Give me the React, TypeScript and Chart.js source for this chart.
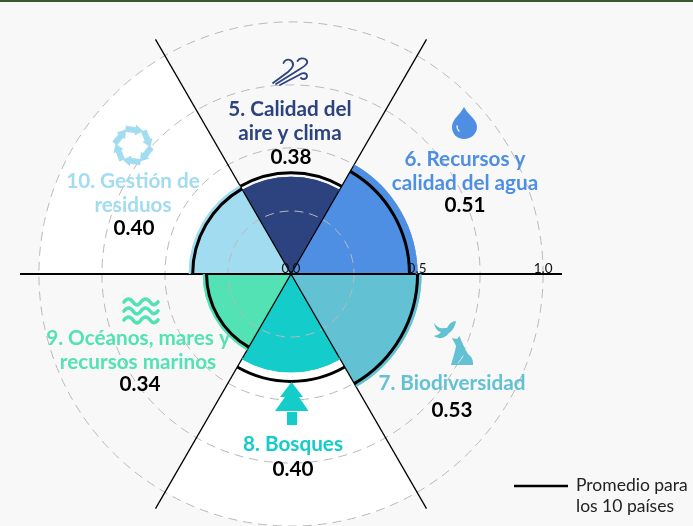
import React, { useEffect, useRef } from "react";
import { Chart, registerables } from "chart.js";

Chart.register(...registerables);

const categories = ["Calidad del aire y clima", "Recursos y calidad del agua", "Biodiversidad", "Bosques", "Océanos, mares y recursos marinos", "Gestión de residuos"];
const plotted = [0.386, 0.502, 0.518, 0.39, 0.35, 0.406];
const averages = [0.402, 0.47, 0.502, 0.426, 0.335, 0.39];
const whiteBands = [0, 0, 0, 1, 0, 1];
const colors = ["#2c4380", "#4f8fe3", "#62c1d3", "#14cdcb", "#52e2b4", "#a2dcf0"];
const axisTicks = [0, 0.5, 1];
const scoreLabels = ["0.38", "0.51", "0.53", "0.40", "0.34", "0.40"];
const nameLines = [
  ["5. Calidad del", "aire y clima"],
  ["6. Recursos y", "calidad del agua"],
  ["7. Biodiversidad"],
  ["8. Bosques"],
  ["9. Océanos, mares y", "recursos marinos"],
  ["10. Gestión de", "residuos"],
];
const labelX = [290, 465, 452, 293, 138, 133];
const labelY = [116, 166, 390, 451, 345, 188];
const scoreX = [291, 465, 452, 293, 140, 134];
const scoreY = [164, 212, 417, 476, 391, 235];
const legendLines = ["Promedio para", "los 10 países"];

const FONT = "Lato, 'Open Sans', sans-serif";

function drawIcons(ctx: CanvasRenderingContext2D) {
  ctx.save();
  ctx.lineCap = "round";
  // wind
  ctx.strokeStyle = colors[0];
  ctx.lineWidth = 1.8;
  ctx.stroke(new Path2D("M273 83 L288 72 C293 68 295 64 291 60.5 C288 58.5 284.5 60 283.5 63"));
  ctx.stroke(new Path2D("M276 84 L300 69 C305 66 309 63 306.5 60 C304 57.5 299 58 297.5 61"));
  ctx.stroke(new Path2D("M280 85 L299 75 C303 72 307 73 307 76 C307 79 303 80 301 78"));
  // drop
  ctx.fillStyle = colors[1];
  ctx.fill(new Path2D("M464 107 C468 115 477 119 477 127 C477 134 471 139 464 139 C457 139 452 134 452 127 C452 119 460 115 464 107 Z"));
  ctx.strokeStyle = "#f8f8f8";
  ctx.lineWidth = 1.3;
  ctx.stroke(new Path2D("M457 126 C457 128 458 130 459 131"));
  // bird + dog
  ctx.fillStyle = colors[2];
  ctx.fill(new Path2D("M434 323 C437 327 440 329 444 328 L447 328 C449 324 452 321 456 321 C455 327 452 331 449 333 C445 338 440 340 434 336 C437 335 440 334 441 332 C437 331 435 328 434 323 Z"));
  ctx.fill(new Path2D("M452 338 L457 339 L459.5 336 C462 342 465 349 468 354 C471 356 473 359 473 363 L473 365 L451 365 C453 358 455 352 456 346 C455 343 453 341 452 338 Z"));
  ctx.strokeStyle = "#f8f8f8";
  ctx.lineWidth = 0.8;
  ctx.stroke(new Path2D("M458 363 C460 361 461 359 463 356"));
  // tree
  ctx.fillStyle = colors[3];
  ctx.fill(new Path2D("M291.5 382 L303 397 L299 397 L308.5 411 L275 411 L285 397 L280 397 Z"));
  ctx.fillRect(287, 412, 10, 13);
  // waves
  ctx.strokeStyle = colors[4];
  ctx.lineWidth = 3.6;
  for (const y of [302, 311, 320]) {
    ctx.stroke(new Path2D(`M124 ${y} C127 ${y - 4} 130 ${y - 4} 133 ${y} C136 ${y + 4} 138 ${y + 4} 141 ${y} C144 ${y - 4} 147 ${y - 4} 150 ${y} C153 ${y + 4} 156 ${y + 3} 158 ${y}`));
  }
  // ring of arrows
  ctx.fillStyle = colors[5];
  for (let k = 0; k < 6; k++) {
    ctx.save();
    ctx.translate(133, 145.5);
    ctx.rotate((k * Math.PI) / 3 + 0.15);
    ctx.fill(new Path2D("M-10 -18.5 L0 -18.5 L0 -21 L8 -15.5 L0 -10 L0 -12.5 L-10 -12.5 Z"));
    ctx.restore();
  }
  ctx.restore();
}

const overlay = {
  id: "overlay",
  afterDraw(chart: any) {
    const ctx: CanvasRenderingContext2D = chart.ctx;
    const r = chart.scales.r;
    // clean outer edge of each filled sector
    ctx.save();
    ctx.lineWidth = 2;
    chart.getDatasetMeta(1).data.forEach((el: any, i: number) => {
      const p = el.getProps(["x", "y", "startAngle", "endAngle", "outerRadius"], true);
      ctx.strokeStyle = colors[i];
      ctx.beginPath();
      ctx.arc(p.x, p.y, p.outerRadius - 1, p.startAngle, p.endAngle);
      ctx.stroke();
    });
    // average arcs built from the average dataset's arc elements
    ctx.strokeStyle = "#000";
    ctx.lineWidth = 3;
    chart.getDatasetMeta(0).data.forEach((el: any) => {
      const p = el.getProps(["x", "y", "startAngle", "endAngle", "outerRadius"], true);
      ctx.beginPath();
      ctx.arc(p.x, p.y, p.outerRadius, p.startAngle, p.endAngle);
      ctx.stroke();
    });
    ctx.restore();

    // axis tick labels
    ctx.save();
    ctx.fillStyle = "#111";
    ctx.font = `400 13.5px ${FONT}`;
    ctx.textAlign = "center";
    ctx.textBaseline = "alphabetic";
    axisTicks.forEach((t) => {
      ctx.fillText(t.toFixed(1), r.xCenter + r.getDistanceFromCenterForValue(t), r.yCenter - 1);
    });
    ctx.restore();

    drawIcons(ctx);

    // sector names and scores
    ctx.save();
    ctx.textAlign = "center";
    ctx.textBaseline = "alphabetic";
    ctx.font = `700 20.7px ${FONT}`;
    nameLines.forEach((lines, i) => {
      ctx.fillStyle = colors[i];
      lines.forEach((l, j) => ctx.fillText(l, labelX[i], labelY[i] + j * 24));
      ctx.fillStyle = "#000";
      ctx.fillText(scoreLabels[i], scoreX[i], scoreY[i]);
    });
    ctx.restore();

    // legend
    ctx.save();
    ctx.strokeStyle = "#000";
    ctx.lineWidth = 2.7;
    ctx.beginPath();
    ctx.moveTo(514, 486);
    ctx.lineTo(568, 486);
    ctx.stroke();
    ctx.fillStyle = "#222";
    ctx.font = `400 17.5px ${FONT}`;
    legendLines.forEach((l, j) => ctx.fillText(l, 576, 491 + j * 21));
    ctx.restore();
  },
};

export default function App() {
  const ref = useRef<HTMLCanvasElement>(null);
  useEffect(() => {
    const chart = new Chart(ref.current!, {
      type: "polarArea",
      data: {
        labels: categories,
        datasets: [
          { label: "Promedio", data: averages, backgroundColor: "transparent", borderWidth: 0 },
          { label: "Índice", data: plotted, backgroundColor: colors, borderWidth: 0 },
          { label: "Fondo", data: whiteBands, backgroundColor: "#ffffff", borderWidth: 0 },
        ],
      },
      options: {
        animation: false,
        responsive: false,
        layout: { padding: { left: 20, top: 2, right: 131, bottom: 6 } },
        plugins: { legend: { display: false }, tooltip: { enabled: false } },
        scales: {
          r: {
            min: 0,
            max: 1.075,
            startAngle: -30,
            ticks: { display: false, stepSize: 0.25 },
            grid: {
              circular: true,
              z: 1,
              lineWidth: 1,
              color: (c: any) => (c.tick && c.tick.value > 1 ? "transparent" : "#b9b9b9"),
            },
            border: { dash: [9, 6] },
            angleLines: {
              display: true,
              color: "#000",
              lineWidth: (c: any) => (c.index === 2 || c.index === 5 ? 2 : 1.3),
            },
            pointLabels: { display: false },
          },
        },
      },
      plugins: [overlay],
    } as any);
    return () => chart.destroy();
  }, []);
  return (
    <div style={{ position: "absolute", left: 0, top: 0, width: 693, height: 526, overflow: "hidden", background: "#f8f8f8" }}>
      <div style={{ position: "absolute", left: 0, top: 0, width: 693, height: 2, background: "#3a5a2e" }} />
      <canvas ref={ref} width={693} height={552} style={{ position: "absolute", left: 0, top: 0 }} />
    </div>
  );
}
